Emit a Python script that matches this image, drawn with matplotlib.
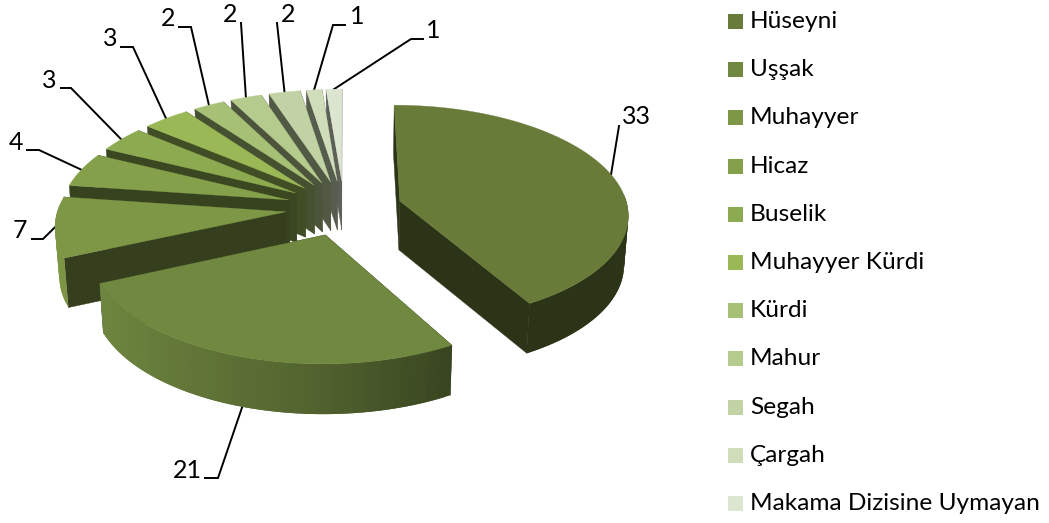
import numpy as np
import matplotlib
matplotlib.use("Agg")
import matplotlib.pyplot as plt
from matplotlib.colors import to_rgb

names = ["Hüseyni", "Uşşak", "Muhayyer", "Hicaz", "Buselik", "Muhayyer Kürdi",
         "Kürdi", "Mahur", "Segah", "Çargah", "Makama Dizisine Uymayan"]
values = [33, 21, 7, 4, 3, 3, 2, 2, 2, 1, 1]
colors = ["#687b38", "#708840", "#7d9746", "#84a04a", "#8caa4f", "#9ab856",
          "#a6c075", "#b5cb8d", "#c1d3a5", "#cfddba", "#dbe5cf"]

# label text centre, then leader elbow points (pixels)
label_pos = [(636, 117), (187, 471), (20, 231), (16, 143), (49, 80), (110, 38),
             (168, 19), (230, 14), (288, 14), (357, 17), (433, 31)]
leader_pts = [[(619, 126)], [(218, 478), (205, 478)], [(43, 239), (32, 239)],
              [(39, 150), (27, 150)], [(71, 88), (61, 88)], [(133, 47), (121, 47)],
              [(191, 27), (179, 27)], [(241, 23)], [(277, 23)],
              [(333, 25), (345, 25)], [(411, 39), (423, 39)]]

CX, CY = 344, 208
R, TILT, PERSP = 228, 0.474, 0.112
EXPLODE = 0.255
DEPTH = 49
FONT = "Lato"


def project(x, y, z=0.0):
    w = 1 + PERSP * y
    sx = CX + R * x / w * (1 - 0.015 * z)
    sy = CY - R * TILT * y / w + DEPTH * z * (1 - 0.02 * y)
    return sx, sy


def shade(c, f):
    return tuple(min(1, v * f) for v in to_rgb(c))


def outer_pt(a, mid, z=0.0):
    x = EXPLODE * np.sin(mid) + np.sin(a)
    y = EXPLODE * np.cos(mid) + np.cos(a)
    return project(x, y, z)


def draw_slice(ax, a0, a1, color, flat_rim=False):
    mid = (a0 + a1) / 2
    apex = (EXPLODE * np.sin(mid), EXPLODE * np.cos(mid))
    for a in (a1, a0):  # radial faces, the far one first
        pts = [project(*apex), outer_pt(a, mid), outer_pt(a, mid, 1), project(*apex, 1)]
        ax.fill(*zip(*pts), color=shade(color, 0.42), lw=0.3)

    # rim, shaded from the left; each strip overlaps the next so no seams show
    edges = np.linspace(a0, a1, max(3, int(np.degrees(a1 - a0) / 1.5)))
    for j in range(len(edges) - 1):
        e0, e1 = edges[j], edges[min(j + 2, len(edges) - 1)]
        m = (edges[j] + edges[j + 1]) / 2
        if np.cos(m) > 0.05:
            continue
        f = np.interp(np.sin(m), [-1, -0.9, 0.0, 0.5, 1], [1, 0.98, 0.72, 0.5, 0.42])
        if flat_rim:
            f = 0.42
        pts = [outer_pt(e0, mid), outer_pt(e1, mid), outer_pt(e1, mid, 1), outer_pt(e0, mid, 1)]
        ax.fill(*zip(*pts), facecolor=shade(color, f), edgecolor="none", lw=0)

    arc = np.linspace(a0, a1, 80)
    pts = [project(*apex)] + [outer_pt(a, mid) for a in arc]
    ax.fill(*zip(*pts), color=color, lw=0.2)


fig = plt.figure(figsize=(10.49, 5.23), dpi=100)
ax = fig.add_axes([0, 0, 1, 1])
ax.set_xlim(0, 1049)
ax.set_ylim(523, 0)
ax.axis("off")

angles = np.cumsum([0] + values) / sum(values) * 2 * np.pi

# leaders sit under the pie
for i, (pos, pts) in enumerate(zip(label_pos, leader_pts)):
    a0, a1 = angles[i], angles[i + 1]
    mid = (a0 + a1) / 2
    start = outer_pt(mid, mid, 1 if np.cos(mid) < -0.5 else 0)
    xs, ys = zip(*([start] + pts))
    ax.plot(xs, ys, color="black", lw=1.4, solid_joinstyle="miter", zorder=1)
    ax.text(pos[0], pos[1], str(values[i]), fontsize=18, family=FONT,
            ha="center", va="center", zorder=5)

# back to front, the big front slice last
for i in list(range(10, 1, -1)) + [0, 1]:
    draw_slice(ax, angles[i], angles[i + 1], colors[i], flat_rim=i == 0)

for i, name in enumerate(names):
    y = 21.5 + i * 48.2
    ax.add_patch(plt.Rectangle((728, y - 7.5), 15, 15, color=colors[i], lw=0))
    ax.text(750, y, name, fontsize=17.6, family=FONT, va="center", ha="left")

fig.savefig("out.png", dpi=100)
